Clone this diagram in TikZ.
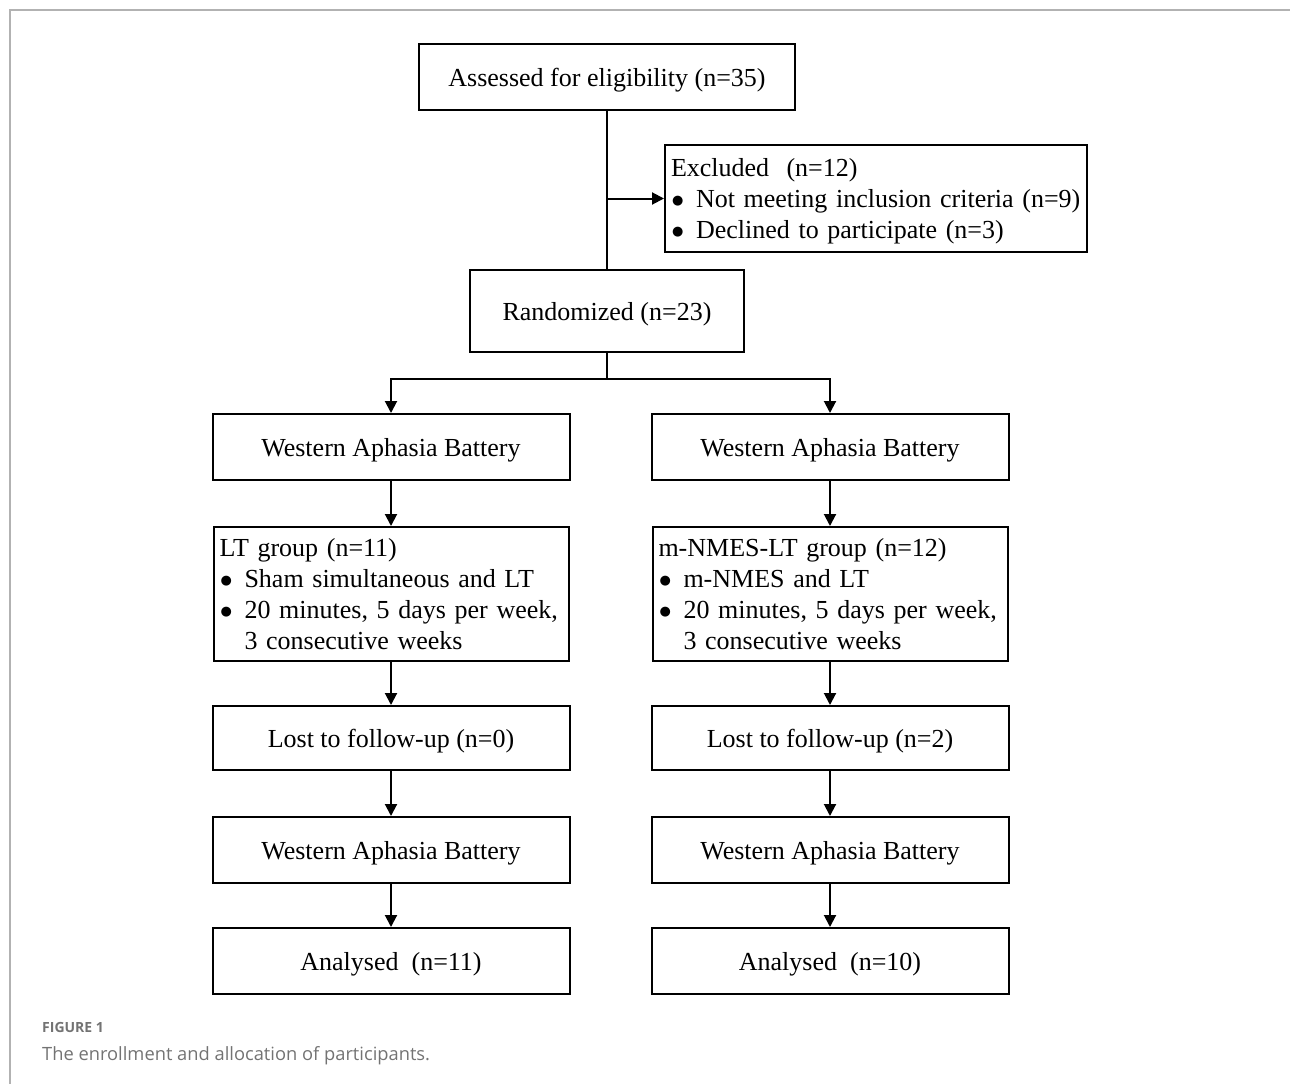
\documentclass[tikz,border=0pt]{standalone}
\usepackage{fontspec}
\setmainfont{Liberation Serif}
\newfontfamily\capfont{Open Sans}
\newfontfamily\symfont{DejaVu Sans}
\usetikzlibrary{arrows.meta}
\newcommand{\bul}{\makebox[25pt][l]{\hspace{1pt}\raisebox{3pt}{\symfont\fontsize{13}{13}\selectfont ●}}}
\begin{document}
\begin{tikzpicture}[x=1pt,y=-1pt,
  box/.style={draw, line width=2pt, inner sep=0pt, font=\fontsize{26}{31}\selectfont, fill=white},
  sbox/.style={box, text height=25pt, text depth=6pt},
  lbox/.style={box, align=left, inner xsep=6pt},
  conn/.style={line width=2pt},
  arr/.style={conn, -{Triangle[length=12pt,width=12pt]}}]
\useasboundingbox (0,0) rectangle (1290,1084);
\draw[black!30, line width=1.5pt] (10,1084) -- (10,10) -- (1290,10);

\node[sbox, minimum width=376pt, minimum height=66pt] (assess) at (607,77) {Assessed for eligibility (n=35)};
\node[lbox, text width=410pt, minimum height=107pt] (excl) at (876,198.5)
  {\mbox{\rule{0pt}{24.5pt}Excluded\ \ (n=12)}\\\mbox{\bul Not meeting inclusion criteria (n=9)}\\\mbox{\bul Declined to participate (n=3)}};
\node[sbox, minimum width=274pt, minimum height=82pt] (rand) at (607,311) {Randomized (n=23)};

\node[sbox, minimum width=357pt, minimum height=66pt] (wabL) at (391,447) {Western Aphasia Battery};
\node[sbox, minimum width=357pt, minimum height=66pt] (wabR) at (830,447) {Western Aphasia Battery};

\node[lbox, text width=343pt, minimum height=134pt] (ltL) at (391,594)
  {\mbox{LT group (n=11)}\\\mbox{\bul Sham simultaneous and LT}\\\mbox{\bul 20 minutes, 5 days per week,}\\\mbox{\hspace*{25pt}3 consecutive weeks}};
\node[lbox, text width=343pt, minimum height=134pt] (ltR) at (830,594)
  {\mbox{m-NMES-LT group (n=12)}\\\mbox{\bul m-NMES and LT}\\\mbox{\bul 20 minutes, 5 days per week,}\\\mbox{\hspace*{25pt}3 consecutive weeks}};

\node[sbox, minimum width=357pt, minimum height=64pt] (lostL) at (391,738) {Lost to follow-up (n=0)};
\node[sbox, minimum width=357pt, minimum height=64pt] (lostR) at (830,738) {Lost to follow-up (n=2)};

\node[sbox, minimum width=357pt, minimum height=66pt] (wab2L) at (391,850) {Western Aphasia Battery};
\node[sbox, minimum width=357pt, minimum height=66pt] (wab2R) at (830,850) {Western Aphasia Battery};

\node[sbox, minimum width=357pt, minimum height=66pt] (anL) at (391,961) {Analysed\ \ (n=11)};
\node[sbox, minimum width=357pt, minimum height=66pt] (anR) at (830,961) {Analysed\ \ (n=10)};

\draw[conn] (assess.south) -- (rand.north);
\draw[arr] (assess.south |- excl.west) -- (excl.west);
\coordinate (split) at (607,379);
\draw[conn] (rand.south) -- (split);
\draw[arr] (split) -| (wabL.north);
\draw[arr] (split) -| (wabR.north);
\draw[arr] (wabL) -- (ltL);
\draw[arr] (wabR) -- (ltR);
\draw[arr] (ltL) -- (lostL);
\draw[arr] (ltR) -- (lostR);
\draw[arr] (lostL) -- (wab2L);
\draw[arr] (lostR) -- (wab2R);
\draw[arr] (wab2L) -- (anL);
\draw[arr] (wab2R) -- (anR);

\node[anchor=base west, inner sep=0pt, text=black!55, font=\capfont\bfseries\fontsize{14}{15}\selectfont] (fig) at (42,1032) {FIGURE 1};
\node[anchor=base west, inner sep=0pt, text=black!55, font=\capfont\fontsize{18.3}{22}\selectfont] (cap) at (42,1060) {The enrollment and allocation of participants.};
\end{tikzpicture}
\end{document}
